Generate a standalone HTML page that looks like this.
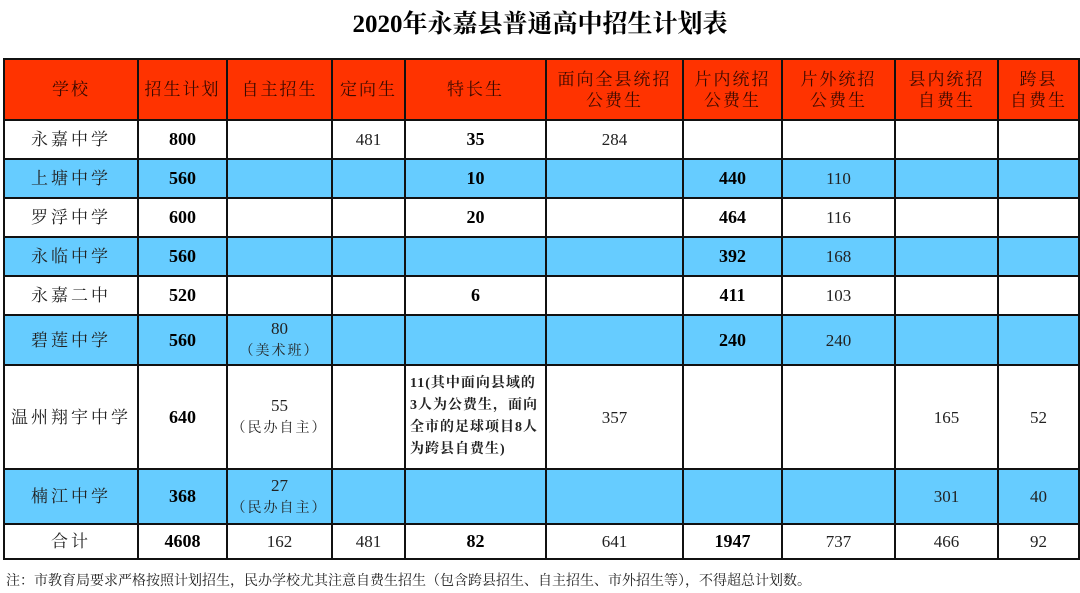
<!DOCTYPE html>
<html><head><meta charset="utf-8">
<style>
body{margin:0;width:1080px;height:593px;background:#fff;position:relative;overflow:hidden;font-family:"Liberation Serif","Noto Serif CJK SC",serif;}
h1{position:absolute;left:0;top:4px;width:1080px;margin:0;text-align:center;font-size:25px;font-weight:bold;color:#000;}
table{position:absolute;left:3px;top:58px;border-collapse:collapse;table-layout:fixed;}
td{border:2px solid #111;text-align:center;vertical-align:middle;padding:0;font-size:17px;color:#222;line-height:21px;overflow:hidden;}
tr.h td{background:#ff3300;color:#3a0a00;font-size:17px;letter-spacing:2px;}
tr.b td{background:#66ccff;}
.n{font-weight:bold;font-size:18px;color:#000;}
.s{font-size:14px;letter-spacing:2px;}
.cn{letter-spacing:3px;}
.sp{text-align:left!important;padding-left:4px!important;font-weight:bold;font-size:14px!important;line-height:22px!important;white-space:nowrap;letter-spacing:1px;}
.note{position:absolute;left:6px;top:570px;font-size:14px;color:#222;font-family:"Liberation Serif","Noto Serif CJK SC",serif;}
</style></head><body>
<h1>2020年永嘉县普通高中招生计划表</h1>
<table>
<colgroup><col style="width:134px"><col style="width:89px"><col style="width:105px"><col style="width:73px"><col style="width:141px"><col style="width:137px"><col style="width:99px"><col style="width:113px"><col style="width:103px"><col style="width:81px"></colgroup>
<tr class="h" style="height:61px"><td>学校</td><td>招生计划</td><td>自主招生</td><td>定向生</td><td>特长生</td><td>面向全县统招<br>公费生</td><td>片内统招<br>公费生</td><td>片外统招<br>公费生</td><td>县内统招<br>自费生</td><td>跨县<br>自费生</td></tr>
<tr style="height:39px"><td class="cn">永嘉中学</td><td class="n">800</td><td></td><td>481</td><td class="n">35</td><td>284</td><td></td><td></td><td></td><td></td></tr>
<tr class="b" style="height:39px"><td class="cn">上塘中学</td><td class="n">560</td><td></td><td></td><td class="n">10</td><td></td><td class="n">440</td><td>110</td><td></td><td></td></tr>
<tr style="height:39px"><td class="cn">罗浮中学</td><td class="n">600</td><td></td><td></td><td class="n">20</td><td></td><td class="n">464</td><td>116</td><td></td><td></td></tr>
<tr class="b" style="height:39px"><td class="cn">永临中学</td><td class="n">560</td><td></td><td></td><td></td><td></td><td class="n">392</td><td>168</td><td></td><td></td></tr>
<tr style="height:39px"><td class="cn">永嘉二中</td><td class="n">520</td><td></td><td></td><td class="n">6</td><td></td><td class="n">411</td><td>103</td><td></td><td></td></tr>
<tr class="b" style="height:50px"><td class="cn">碧莲中学</td><td class="n">560</td><td>80<br><span class="s">（美术班）</span></td><td></td><td></td><td></td><td class="n">240</td><td>240</td><td></td><td></td></tr>
<tr style="height:104px"><td class="cn">温州翔宇中学</td><td class="n">640</td><td>55<br><span class="s">（民办自主）</span></td><td></td><td class="sp">11(其中面向县域的<br>3人为公费生，面向<br>全市的足球项目8人<br>为跨县自费生)</td><td>357</td><td></td><td></td><td>165</td><td>52</td></tr>
<tr class="b" style="height:55px"><td class="cn">楠江中学</td><td class="n">368</td><td>27<br><span class="s">（民办自主）</span></td><td></td><td></td><td></td><td></td><td></td><td>301</td><td>40</td></tr>
<tr style="height:35px"><td class="cn">合计</td><td class="n">4608</td><td>162</td><td>481</td><td class="n">82</td><td>641</td><td class="n">1947</td><td>737</td><td>466</td><td>92</td></tr>
</table>
<div class="note">注：市教育局要求严格按照计划招生，民办学校尤其注意自费生招生（包含跨县招生、自主招生、市外招生等），不得超总计划数。</div>
</body></html>
